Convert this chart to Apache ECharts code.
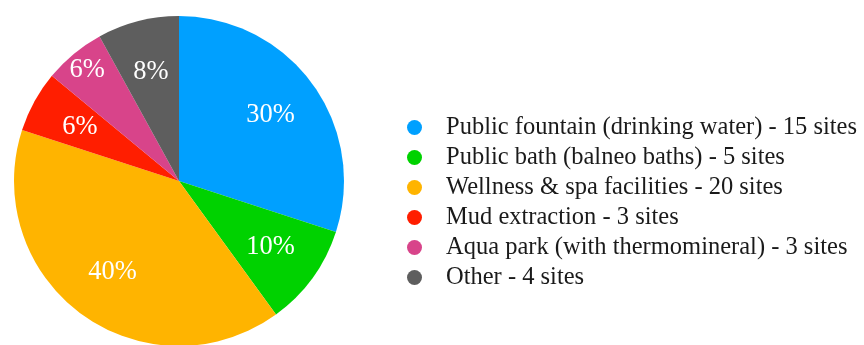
<!DOCTYPE html>
<html>
<head>
<meta charset="utf-8">
<script src="https://cdn.jsdelivr.net/npm/echarts@6/dist/echarts.min.js"></script>
<style>
  html, body { margin: 0; padding: 0; background: #ffffff; }
  #chart { width: 864px; height: 345px; }
</style>
</head>
<body>
<div id="chart"></div>
<script>
// Site categories and number of sites in each
const categories = [
  'Public fountain (drinking water)',
  'Public bath (balneo baths)',
  'Wellness & spa facilities',
  'Mud extraction',
  'Aqua park (with thermomineral)',
  'Other'
];
const siteCounts = [15, 5, 20, 3, 3, 4];

const palette = ['#00A0FF', '#00D200', '#FFB400', '#FF1E00', '#D8448A', '#5E5E5E'];

const FONT = '"Liberation Serif", "DejaVu Serif", serif';
const CENTER = [179, 181];

const pieData = categories.map((name, i) => ({ name: name, value: siteCounts[i] }));

// Transparent ring carrying the percentage labels; showOnly picks which slices get a label
function labelRing(radius, showOnly) {
  return {
    type: 'pie',
    silent: true,
    center: CENTER,
    radius: radius,
    startAngle: 90,
    clockwise: true,
    emphasis: { disabled: true },
    itemStyle: { color: 'transparent' },
    labelLine: { show: false },
    label: {
      position: 'inside',
      formatter: '{d}%',
      color: '#ffffff',
      fontFamily: FONT,
      fontSize: 26.5
    },
    data: pieData.map((d, i) => ({
      name: d.name,
      value: d.value,
      label: { show: showOnly(i) }
    }))
  };
}

const chart = echarts.init(document.getElementById('chart'), null, { renderer: 'canvas' });
chart.setOption({
  animation: false,
  color: palette,
  legend: {
    orient: 'vertical',
    left: 407,
    top: 115,
    padding: 0,
    icon: 'circle',
    itemWidth: 15,
    itemHeight: 15,
    itemGap: 5,
    selectedMode: false,
    data: categories,
    formatter: function (name) {
      const i = categories.indexOf(name);
      return name + ' - ' + siteCounts[i] + ' sites';
    },
    textStyle: {
      fontFamily: FONT,
      fontSize: 24.5,
      lineHeight: 24,
      color: '#1a1a1a',
      padding: [0, 0, 0, 19]
    }
  },
  series: [
    {
      type: 'pie',
      center: CENTER,
      radius: 165,
      startAngle: 90,
      clockwise: true,
      label: { show: false },
      labelLine: { show: false },
      emphasis: { disabled: true },
      data: pieData
    },
    labelRing([90, 130], i => i !== 4),
    labelRing([121, 161], i => i === 4)
  ]
});
</script>
</body>
</html>
